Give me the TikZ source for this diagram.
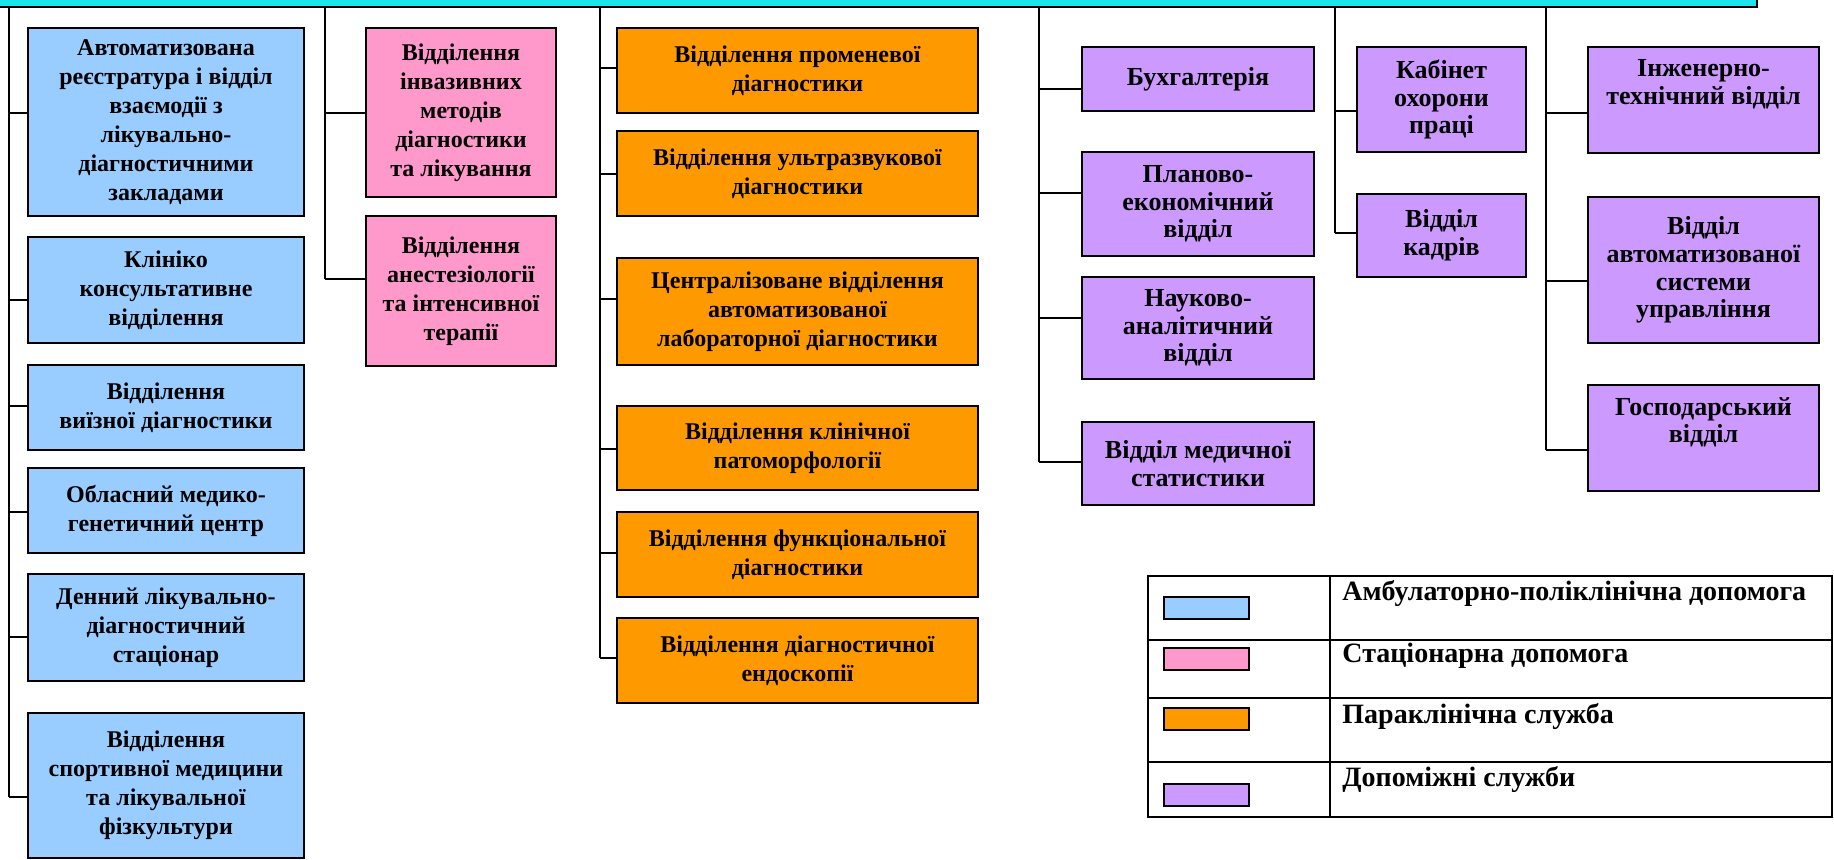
\documentclass[tikz,border=0pt]{standalone}
\usepackage{fontspec}
\setmainfont{Liberation Serif}
\definecolor{cblue}{RGB}{153,204,255}
\definecolor{cpink}{RGB}{255,153,204}
\definecolor{corange}{RGB}{255,153,0}
\definecolor{cpurple}{RGB}{204,153,255}
\definecolor{ccyan}{RGB}{30,226,236}
\newcommand\mkbox[8]{%
  \node[bx, fill=#6, #8, minimum width=(#4-#2)*0.5pt, minimum height=(#5-#3)*0.5pt]
    (#1) at ({(#2+#4)/2},{(#3+#5)/2}) {#7};}
\begin{document}
\begin{tikzpicture}[x=0.5pt,y=-0.5pt,
  bx/.style={draw=black, line width=1.4pt, align=center, inner sep=1pt, text=black},
  fa/.style={font=\fontsize{12}{14.5}\selectfont\bfseries},
  fb/.style={font=\fontsize{13}{13.8}\selectfont\bfseries},
  conn/.style={line width=1.3pt, black},
  sw/.style={draw=black, line width=1pt, minimum width=42.5pt, minimum height=11pt, inner sep=0pt},
  lg/.style={anchor=west, font=\fontsize{14}{15}\selectfont\bfseries, inner sep=0pt}]
\useasboundingbox (0,0) rectangle (1834,859);
\fill[white] (0,0) rectangle (1834,859);
% top bar
\node[draw=black, line width=1.3pt, fill=ccyan, minimum width=1767*0.5pt, minimum height=47*0.5pt, inner sep=0pt] (bar) at (873.5,-16.5) {};
% blue column
\mkbox{b1}{28}{28}{304}{216}{cblue}{Автоматизована\\реєстратура і відділ\\взаємодії з\\лікувально-\\діагностичними\\закладами}{fa}
\mkbox{b2}{28}{237}{304}{343}{cblue}{Клініко\\консультативне\\відділення}{fa}
\mkbox{b3}{28}{365}{304}{450}{cblue}{Відділення\\виїзної діагностики}{fa}
\mkbox{b4}{28}{468}{304}{553}{cblue}{Обласний медико-\\генетичний центр}{fa}
\mkbox{b5}{28}{574}{304}{681}{cblue}{Денний лікувально-\\діагностичний\\стаціонар}{fa}
\mkbox{b6}{28}{713}{304}{858}{cblue}{Відділення\\спортивної медицини\\та лікувальної\\фізкультури}{fa}
% pink column
\mkbox{p1}{366}{28}{556}{197}{cpink}{Відділення\\інвазивних\\методів\\діагностики\\та лікування}{fa}
\mkbox{p2}{366}{216}{556}{366}{cpink}{Відділення\\анестезіології\\та інтенсивної\\терапії}{fa}
% orange column
\mkbox{o1}{617}{28}{978}{113}{corange}{Відділення променевої\\діагностики}{fa}
\mkbox{o2}{617}{131}{978}{216}{corange}{Відділення ультразвукової\\діагностики}{fa}
\mkbox{o3}{617}{258}{978}{365}{corange}{Централізоване відділення\\автоматизованої\\лабораторної діагностики}{fa}
\mkbox{o4}{617}{406}{978}{490}{corange}{Відділення клінічної\\патоморфології}{fa}
\mkbox{o5}{617}{512}{978}{597}{corange}{Відділення функціональної\\діагностики}{fa}
\mkbox{o6}{617}{618}{978}{703}{corange}{Відділення діагностичної\\ендоскопії}{fa}
% purple columns
\mkbox{u1}{1082}{47}{1314}{111}{cpurple}{Бухгалтерія}{fb}
\mkbox{u2}{1082}{152}{1314}{256}{cpurple}{Планово-\\економічний\\відділ}{fb}
\mkbox{u3}{1082}{277}{1314}{379}{cpurple}{Науково-\\аналітичний\\відділ}{fb}
\mkbox{u4}{1082}{422}{1314}{505}{cpurple}{Відділ медичної\\статистики}{fb}
\mkbox{k1}{1357}{47}{1526}{152}{cpurple}{Кабінет\\охорони\\праці}{fb}
\mkbox{k2}{1357}{194}{1526}{277}{cpurple}{Відділ\\кадрів}{fb}
\mkbox{r1}{1588}{47}{1819}{153}{cpurple}{Інженерно-\\технічний відділ\\[4pt]}{fb}
\mkbox{r2}{1588}{197}{1819}{343}{cpurple}{Відділ\\автоматизованої\\системи\\управління}{fb}
\mkbox{r3}{1588}{385}{1819}{491}{cpurple}{Господарський\\відділ\\[4pt]}{fb}
% trunks and stubs
\foreach \tx/\last/\lst in {9/b6/{b1/113,b2/300,b3/406,b4/512,b5/637,b6/797},
                           325/p2/{p1/113,p2/279},
                           600/o6/{o1/68,o2/174,o3/299,o4/449,o5/553,o6/658},
                           1039/u4/{u1/89,u2/193,u3/318,u4/462},
                           1335/k2/{k1/111,k2/233},
                           1546/r3/{r1/113,r2/281,r3/450}} {
  \foreach \n/\yy in \lst {
    \coordinate (s\n) at (\tx,\yy);
    \draw[conn] (s\n) -- (s\n -| \n.west);
  }
  \draw[conn] (bar.south -| s\last) -- (s\last);
}
% legend
\draw[line width=1.3pt] (1148,576) rectangle (1832,817);
\draw[line width=1.3pt] (1330,576) -- (1330,817);
\foreach \yy in {640,698,762} \draw[line width=1.3pt] (1148,\yy) -- (1832,\yy);
\node[sw, fill=cblue] (lw1) at (1206.5,608) {};
\node[sw, fill=cpink] (lw2) at (1206.5,658.5) {};
\node[sw, fill=corange] (lw3) at (1206.5,719) {};
\node[sw, fill=cpurple] (lw4) at (1206.5,794.5) {};
\node[lg] (lt1) at (1342,593) {Амбулаторно-поліклінічна допомога};
\node[lg] (lt2) at (1342,656) {Стаціонарна допомога};
\node[lg] (lt3) at (1342,716) {Параклінічна служба};
\node[lg] (lt4) at (1342,779) {Допоміжні служби};
\end{tikzpicture}
\end{document}
